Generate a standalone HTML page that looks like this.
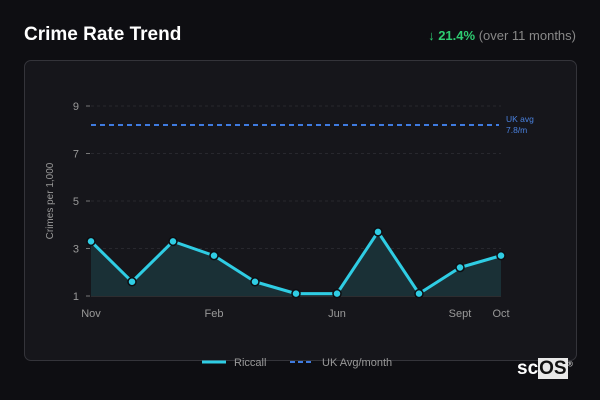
<!DOCTYPE html>
<html><head><meta charset="utf-8"><style>
body{margin:0;width:600px;height:400px;background:#0e0e12;font-family:"Liberation Sans",sans-serif;overflow:hidden;position:relative}
.title{position:absolute;left:24px;top:24px;color:#fff;font-weight:bold;font-size:19px}
.delta{position:absolute;right:24px;top:28px;font-size:13px;color:#888}
.delta b{color:#2ecc71}
.card{position:absolute;left:24px;top:60px;width:551px;height:299px;border:1px solid #34343a;border-radius:7px;background:#16161b}
svg{position:absolute;left:0;top:0}
.logo{position:absolute;left:517px;top:358px;color:#fff;font-weight:bold;font-size:19px}
.logo span{background:#e8e8e8;color:#111;padding:0 1px}
</style></head><body>
<div class="title">Crime Rate Trend</div>
<div class="delta"><b>↓ 21.4%</b> (over 11 months)</div>
<div class="card"></div>
<svg id="c" width="600" height="400"></svg>
<div class="logo">sc<span>OS</span><sup style="font-size:7px;font-weight:normal">®</sup></div>
<script>
const labels=["Nov","","","Feb","","","Jun","","","Sept","Oct"];
const values=[3.3,1.6,3.3,2.7,1.6,1.1,1.1,3.7,1.1,2.2,2.7];
const yTicks=[1,3,5,7,9];
const ukAvg=[8.2];
const ns="http://www.w3.org/2000/svg",s=document.getElementById('c');
const X=i=>91+i*(410/(values.length-1)),Y=v=>296-(v-1)*23.75;
function el(t,a,txt){const e=document.createElementNS(ns,t);for(const k in a)e.setAttribute(k,a[k]);if(txt!=null)e.textContent=txt;s.appendChild(e);return e;}
yTicks.forEach(t=>{
 if(t>1){const g=el('line',{x1:91,x2:501,y1:Y(t),y2:Y(t),stroke:'#28282e','stroke-dasharray':'3,3'});
 }
 const tk=el('line',{x1:86,x2:90,y1:Y(t),y2:Y(t),stroke:'#777'});
 
 const l=el('text',{x:79,y:Y(t)+4,fill:'#999','font-size':11,'text-anchor':'end'},t);
 
});
const b=el('line',{x1:91,x2:501,y1:296,y2:296,stroke:'#444'});

labels.forEach((t,i)=>{if(!t)return;
 const l=el('text',{x:X(i),y:317,fill:'#999','font-size':11,'text-anchor':'middle'},t);
 });
const yt=el('text',{x:0,y:0,fill:'#999','font-size':10,'text-anchor':'middle',transform:'translate(53,201) rotate(-90)'},'Crimes per 1,000');

let pts=values.map((v,i)=>X(i)+','+Y(v)).join(' ');
const a=el('polygon',{points:X(0)+',296 '+pts+' '+X(values.length-1)+',296',fill:'#1a3036'});

const u=el('line',{x1:91,x2:499,y1:Y(ukAvg[0]),y2:Y(ukAvg[0]),stroke:'#3f7be0','stroke-width':2,'stroke-dasharray':'5,4'});

const ul=el('text',{x:506,y:Y(ukAvg[0])-3,fill:'#4a82e0','font-size':8.5},'UK avg');

const ul2=el('text',{x:506,y:Y(ukAvg[0])+8,fill:'#4a82e0','font-size':8.5},'7.8/m');

const ln=el('polyline',{points:pts,fill:'none',stroke:'#2fcde4','stroke-width':3,'stroke-linejoin':'round'});

values.forEach((v,i)=>{const c=el('circle',{cx:X(i),cy:Y(v),r:4,fill:'#2fcde4',stroke:'#0e0e12','stroke-width':1.5});
 });
const l1=el('line',{x1:202,x2:226,y1:362,y2:362,stroke:'#2fcde4','stroke-width':3});

const t1=el('text',{x:234,y:366,fill:'#999','font-size':11},'Riccall');

const l2=el('line',{x1:290,x2:314,y1:362,y2:362,stroke:'#3f7be0','stroke-width':2,'stroke-dasharray':'5,3'});

const t2=el('text',{x:322,y:366,fill:'#999','font-size':11},'UK Avg/month');

</script>
</body></html>
